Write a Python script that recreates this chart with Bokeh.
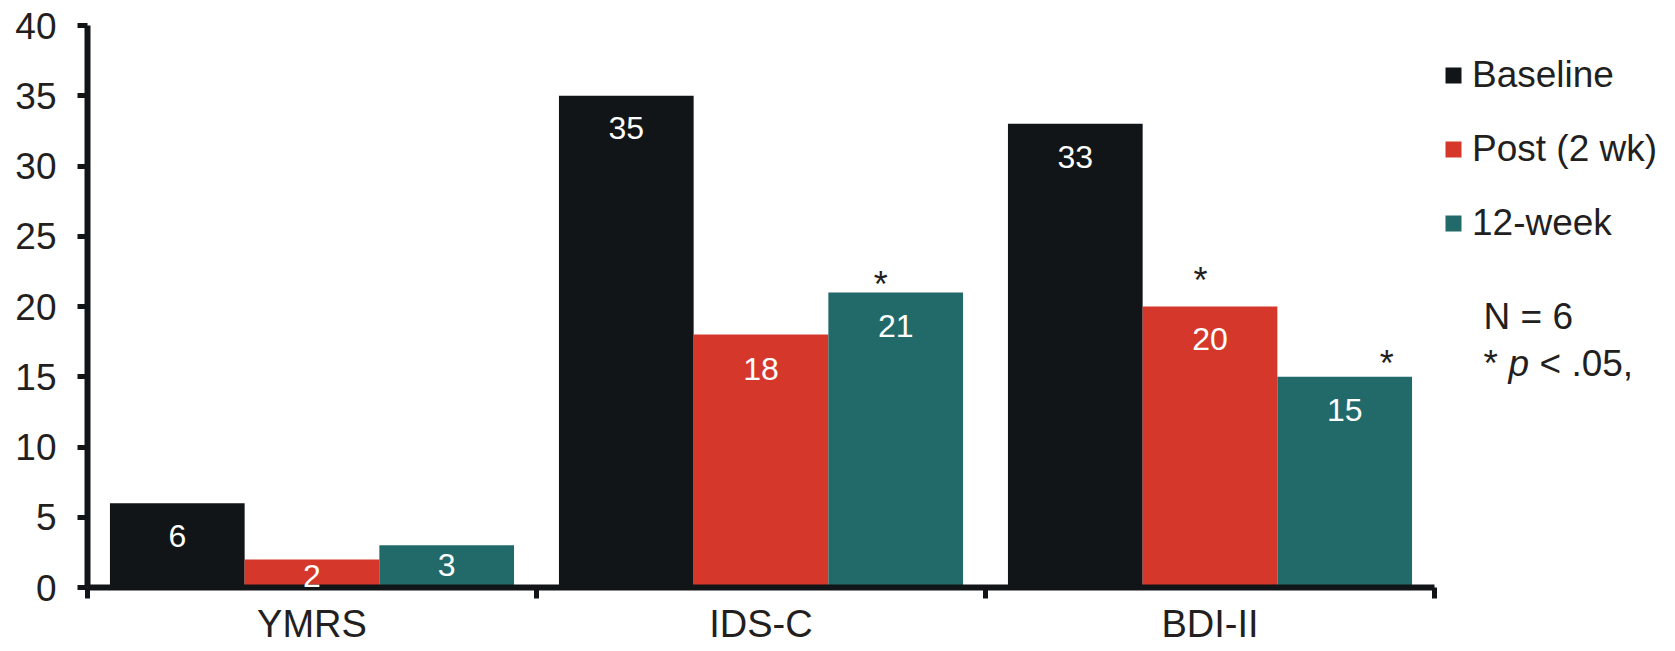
from bokeh.plotting import figure
from bokeh.models import (ColumnDataSource, Range1d, LinearAxis, FixedTicker,
                          Legend, LegendItem, Label)
from bokeh.core.properties import value
from bokeh.transform import dodge
from bokeh.embed import file_html
from bokeh.resources import INLINE

# ---- data ----
categories = ["YMRS", "IDS-C", "BDI-II"]
series = ["Baseline", "Post (2 wk)", "12-week"]
baseline = [6, 35, 33]
post = [2, 18, 20]
week12 = [3, 21, 15]
post_sig = ["", "", "*"]
week12_sig = ["", "*", "*"]
y_ticks = [0, 5, 10, 15, 20, 25, 30, 35, 40]

# ---- style / layout ----
FONT = "Liberation Sans"
TXT = "#231f20"
AX = "#121517"
colors = ["#111517", "#d6372b", "#226a69"]
W, H = 1675, 651
LEFT, TOP, BOTTOM = 87, 25, 64
CAT_PX = 449                      # pixel width of one category
VAL_FS = 32
STAR_FS = 36
FIX = 11.5                        # renderer baseline correction (px)
label_dy = [[33, 32, 33], [17, 34, 33], [20, 34, 33]]      # px from bar top to text centre
sig_dx = {("post", 2): -9.5, ("week12", 1): -15, ("week12", 2): 42}
sig_up = {("post", 2): 35, ("week12", 1): 17, ("week12", 2): 22}

frame_w = W - LEFT
xc = [i + 0.5 for i in range(len(categories))]
data = dict(baseline=baseline, post=post, week12=week12)
texts = {k: [str(v) for v in vals] for k, vals in data.items()}
sigs = dict(post=post_sig, week12=week12_sig)

src = ColumnDataSource(dict(x=xc, **data))

p = figure(width=W, height=H, output_backend="svg", toolbar_location=None,
           x_range=Range1d(0, frame_w / CAT_PX), y_range=Range1d(0, 40),
           min_border_left=LEFT, min_border_right=0, min_border_top=TOP, min_border_bottom=BOTTOM,
           x_axis_type=None, y_axis_type=None)
p.outline_line_color = None
p.grid.visible = False
p.border_fill_color = "white"

offsets = dict(baseline=-0.3, post=0.0, week12=0.3)
renderers = []
for f, c in zip(data.keys(), colors):
    r = p.vbar(x=dodge("x", offsets[f], range=p.x_range), top=f, width=0.3, bottom=0,
               source=src, fill_color=c, line_color=None)
    renderers.append(r)

# value labels
for k, f in enumerate(data.keys()):
    for i in range(len(categories)):
        sub = ColumnDataSource(dict(x=[xc[i]], y=[data[f][i]], t=[texts[f][i]]))
        p.text(x=dodge("x", offsets[f], range=p.x_range), y="y", text="t", source=sub,
               text_color="white", text_font=value(FONT), text_font_size=f"{VAL_FS}px",
               text_align="center", text_baseline="alphabetic", level="overlay",
               y_offset=label_dy[k][i] + 0.358 * VAL_FS - FIX)

# significance asterisks
for f, marks in sigs.items():
    for i in range(len(categories)):
        if not marks[i]:
            continue
        sub = ColumnDataSource(dict(x=[xc[i]], y=[data[f][i]], t=[marks[i]]))
        p.text(x=dodge("x", offsets[f], range=p.x_range), y="y", text="t", source=sub,
               text_color=TXT, text_font=value(FONT), text_font_size=f"{STAR_FS}px",
               text_align="center", text_baseline="alphabetic",
               x_offset=sig_dx[(f, i)], y_offset=0.575 * STAR_FS - sig_up[(f, i)] - FIX)

# y axis
yax = LinearAxis(ticker=FixedTicker(ticks=y_ticks))
yax.axis_line_width = 6
yax.axis_line_color = AX
yax.major_tick_line_width = 5
yax.major_tick_line_color = AX
yax.major_tick_out = 10
yax.major_tick_in = 0
yax.minor_tick_line_color = None
yax.major_label_text_font = FONT
yax.major_label_text_font_size = "37px"
yax.major_label_text_color = TXT
yax.major_label_standoff = 21
p.add_layout(yax, "left")

# x axis: category labels at centres, boundary ticks as minor ticks
xax = LinearAxis(ticker=FixedTicker(ticks=xc, minor_ticks=list(range(len(categories) + 1))),
                 major_label_overrides={x: c for x, c in zip(xc, categories)},
                 bounds=(0, len(categories)))
xax.axis_line_width = 6
xax.axis_line_color = AX
xax.major_tick_line_color = None
xax.major_tick_out = 11
xax.major_tick_in = 0
xax.minor_tick_line_width = 5
xax.minor_tick_line_color = AX
xax.minor_tick_out = 11
xax.minor_tick_in = 0
xax.major_label_text_font = FONT
xax.major_label_text_font_size = "38px"
xax.major_label_text_color = TXT
xax.major_label_standoff = 4
p.add_layout(xax, "below")

legend = Legend(items=[LegendItem(label=s, renderers=[r]) for s, r in zip(series, renderers)],
                location=(1356, 342))
legend.border_line_color = None
legend.background_fill_alpha = 0
legend.padding = 0
legend.margin = 0
legend.glyph_width = 20
legend.glyph_height = 20
legend.label_height = 44
legend.label_standoff = 9
legend.spacing = 30
legend.label_text_font = FONT
legend.label_text_font_size = "37px"
legend.label_text_color = TXT
legend.label_text_baseline = "middle"
p.add_layout(legend, "center")

common = dict(x_units="screen", y_units="screen", text_font=FONT, text_font_size="37px",
              text_color=TXT, text_baseline="alphabetic")
p.add_layout(Label(x=1396, y=260 + FIX, text="N = 6", **common))
p.add_layout(Label(x=1396, y=213 + FIX, text="*", **common))
p.add_layout(Label(x=1421, y=213 + FIX, text="p", text_font_style="italic", **common))
p.add_layout(Label(x=1452, y=213 + FIX, text="< .05,", **common))

open("out.html", "w").write(file_html(p, INLINE))
